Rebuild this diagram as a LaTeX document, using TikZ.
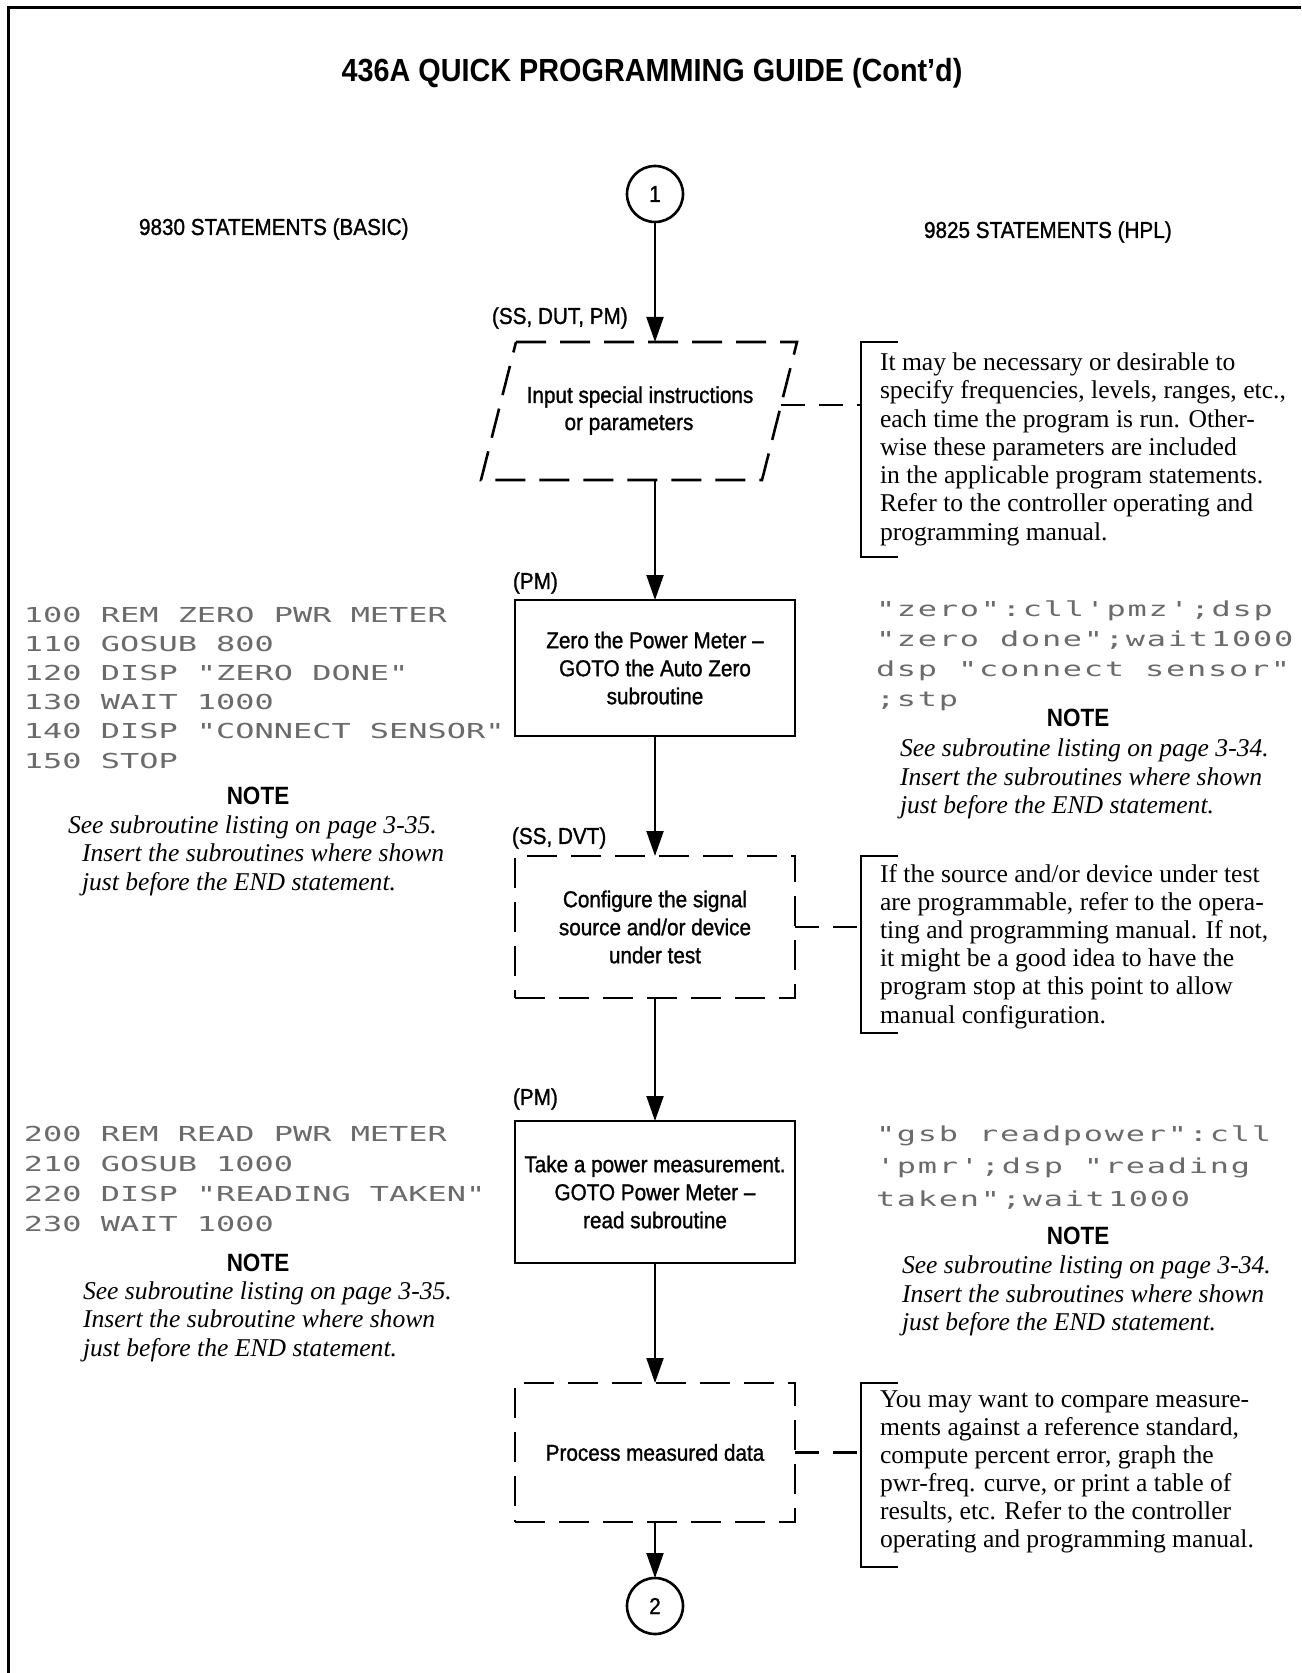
\documentclass[tikz,border=0pt]{standalone}
\usepackage{fontspec}
\setmainfont{Liberation Serif}
\newfontfamily\csans[FakeStretch=0.9]{Liberation Sans}
\newfontfamily\csansm[FakeStretch=0.9,FakeBold=1.2]{Liberation Sans}
\newfontfamily\dotA[FakeStretch=1.55,LetterSpace=0]{DejaVu Sans Mono}
\newfontfamily\dotB[FakeStretch=1.55,LetterSpace=8.5]{DejaVu Sans Mono}
\usetikzlibrary{arrows.meta}
\begin{document}
\begin{tikzpicture}[x=0.5pt,y=-0.5pt,
  every node/.style={inner sep=0pt, outer sep=0pt},
  lbl/.style={font=\csansm\fontsize{11.5}{14}\selectfont, anchor=west},
  solidbox/.style={draw, line width=1.2pt, minimum width=140pt, align=center,
    font=\csansm\fontsize{11.5}{14}\selectfont},
  dashbox/.style={solidbox, line width=1.3pt, dash pattern=on 15pt off 7pt},
  conn/.style={draw, circle, line width=1.3pt, minimum size=28pt,
    font=\csansm\fontsize{11.5}{14}\selectfont},
  arr/.style={-{Triangle[length=12.5pt,width=8.5pt]}, line width=1pt},
  dconn/.style={line width=1.1pt, dash pattern=on 12pt off 7pt},
  brk/.style={line width=1pt},
  note/.style={font=\fontsize{12.8}{14}\selectfont, anchor=base west},
  inote/.style={font=\itshape\fontsize{12.8}{14}\selectfont, anchor=base west},
  notehd/.style={font=\csans\bfseries\fontsize{12.5}{14}\selectfont},
  codeA/.style={font=\dotA\fontsize{10.3}{12}\selectfont, text=black!58, anchor=base west},
  codeB/.style={font=\dotB\fontsize{10.3}{12}\selectfont, text=black!58, anchor=base west}
]
\useasboundingbox (0,0) rectangle (1301,1673);
\fill[white] (0,0) rectangle (1301,1673);
% frame
\draw[line width=1.5pt] (8,1673) -- (8,8) -- (1301,8);

% title and headings
\node[font=\csans\bfseries\fontsize{16}{19}\selectfont] (title) at (652,73) {436A QUICK PROGRAMMING GUIDE (Cont’d)};
\node[lbl] (hbasic) at (139,229) {9830 STATEMENTS (BASIC)};
\node[lbl] (hhpl) at (924,232) {9825 STATEMENTS (HPL)};

% connector 1
\node[conn] (c1) at (655,194) {1};

% parallelogram
\coordinate (pTL) at (516,342);
\coordinate (pTR) at (797,342);
\coordinate (pBR) at (762,480);
\coordinate (pBL) at (481,480);
\coordinate (paraN) at (655,342);
\coordinate (paraS) at (655,480);
\coordinate (paraE) at (781,405);
\draw[line width=1.3pt, dash pattern=on 15pt off 7pt] (pTL) -- (pTR) -- (pBR) -- (pBL) -- cycle;
\node[font=\csansm\fontsize{11.5}{14}\selectfont] (para1) at (640,397) {Input special instructions};
\node[font=\csansm\fontsize{11.5}{14}\selectfont] (para2) at (629,425) {or parameters};
\node[lbl] (lab1) at (492,318) {(SS, DUT, PM)};

% boxes
\node[lbl] (lab2) at (513,583) {(PM)};
\node[solidbox, minimum height=68pt] (box2) at (655,668) {Zero the Power Meter –\\GOTO the Auto Zero\\subroutine};
\node[lbl] (lab3) at (512,838) {(SS, DVT)};
\node[dashbox, minimum height=71pt] (box3) at (655,927) {Configure the signal\\source and/or device\\under test};
\node[lbl] (lab4) at (513,1099) {(PM)};
\node[solidbox, minimum height=71pt] (box4) at (655,1192) {Take a power measurement.\\GOTO Power Meter –\\read subroutine};
\node[dashbox, minimum height=69.5pt] (box5) at (655,1452.5) {Process measured data};
\node[conn] (c2) at (655,1606) {2};

% flow arrows
\draw[arr] (c1) -- (paraN);
\draw[arr] (paraS) -- (box2);
\draw[arr] (box2) -- (box3);
\draw[arr] (box3) -- (box4);
\draw[arr] (box4) -- (box5);
\draw[arr] (box5) -- (c2);

% brackets and dashed connectors
\coordinate (br1) at (861,405);
\coordinate (br2) at (861,927);
\coordinate (br3) at (861,1452.5);
\draw[brk] (898,342) -- (861,342) -- (861,557) -- (898,557);
\draw[brk] (898,856) -- (861,856) -- (861,1033) -- (898,1033);
\draw[brk] (898,1383) -- (861,1383) -- (861,1567) -- (898,1567);
\draw[dconn] (paraE) -- (br1);
\draw[dconn] (box3) -- (br2);
\draw[dconn] (box5) -- (br3);

% right notes
\foreach \t [count=\i from 0] in {It may be necessary or desirable to, {specify frequencies, levels, ranges, etc.,}, each time the program is run. Other-, wise these parameters are included, in the applicable program statements., Refer to the controller operating and, programming manual.}
  \node[note] (na\i) at (880,{370.5+28.3*\i}) {\t};
\foreach \t [count=\i from 0] in {If the source and/or device under test, {are programmable, refer to the opera-}, {ting and programming manual. If not,}, it might be a good idea to have the, program stop at this point to allow, manual configuration.}
  \node[note] (nb\i) at (880,{882+28.2*\i}) {\t};
\foreach \t [count=\i from 0] in {You may want to compare measure-, {ments against a reference standard,}, {compute percent error, graph the}, {pwr-freq. curve, or print a table of}, {results, etc. Refer to the controller}, operating and programming manual.}
  \node[note] (nc\i) at (880,{1407+28*\i}) {\t};

% BASIC listings
\foreach \t [count=\i from 0] in {100 REM ZERO PWR METER, 110 GOSUB 800, 120 DISP "ZERO DONE", 130 WAIT 1000, 140 DISP "CONNECT SENSOR", 150 STOP}
  \node[codeA] (bas\i) at (24,{622+29.2*\i}) {\t};
\node[notehd] (nh1) at (258,796) {NOTE};
\node[inote] (il1) at (68,833) {See subroutine listing on page 3-35.};
\node[inote] (il2) at (82,861) {Insert the subroutines where shown};
\node[inote] (il3) at (82,890) {just before the END statement.};

\foreach \t [count=\i from 0] in {200 REM READ PWR METER, 210 GOSUB 1000, 220 DISP "READING TAKEN", 230 WAIT 1000}
  \node[codeA] (basb\i) at (24,{1141+30*\i}) {\t};
\node[notehd] (nh2) at (258,1263) {NOTE};
\node[inote] (il4) at (83,1299) {See subroutine listing on page 3-35.};
\node[inote] (il5) at (83,1327) {Insert the subroutine where shown};
\node[inote] (il6) at (83,1356) {just before the END statement.};

% HPL listings
\node[codeB] (hpa0) at (876,616) {"zero":cll'pmz';dsp};
\node[codeB] (hpa1) at (876,646) {"zero done";wait\hspace{0.15em}1000};
\node[codeB] (hpa2) at (876,676) {dsp "connect sensor"};
\node[codeB] (hpa3) at (876,706) {;stp};
\node[notehd] (nh3) at (1078,718) {NOTE};
\node[inote] (ir1) at (900,756) {See subroutine listing on page 3-34.};
\node[inote] (ir2) at (900,785) {Insert the subroutines where shown};
\node[inote] (ir3) at (900,813) {just before the END statement.};

\node[codeB] (hpb0) at (876,1141) {"gsb readpower":cll};
\node[codeB] (hpb1) at (876,1173) {'pmr';dsp "reading};
\node[codeB] (hpb2) at (876,1206) {taken";wait\hspace{0.15em}1000};
\node[notehd] (nh4) at (1078,1236) {NOTE};
\node[inote] (ir4) at (902,1273) {See subroutine listing on page 3-34.};
\node[inote] (ir5) at (902,1302) {Insert the subroutines where shown};
\node[inote] (ir6) at (902,1330) {just before the END statement.};
\end{tikzpicture}
\end{document}
